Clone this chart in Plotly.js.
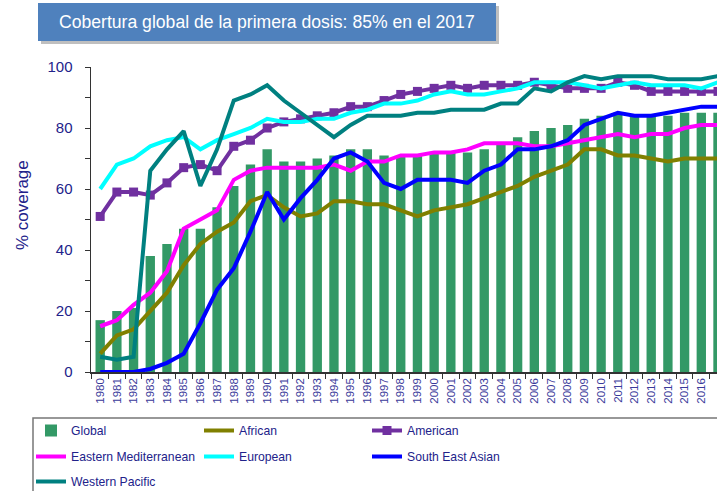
<!DOCTYPE html>
<html>
<head>
<meta charset="utf-8">
<script src="https://cdn.plot.ly/plotly-3.0.1.min.js"></script>
<style>html,body{margin:0;padding:0;background:#fff;}#chart{width:717px;height:491px;}</style>
</head>
<body>
<div id="chart"></div>
<script>
const years = ['1980','1981','1982','1983','1984','1985','1986','1987','1988','1989','1990','1991','1992','1993','1994','1995','1996','1997','1998','1999','2000','2001','2002','2003','2004','2005','2006','2007','2008','2009','2010','2011','2012','2013','2014','2015','2016','2017'];
const globalCov = [17,20,21,38,42,47,47,54,61,68,73,69,69,70,71,73,73,71,71,71,72,72,72,73,75,77,79,80,81,83,84,85,84,84,84,85,85,85];
const african = [6,12,14,20,26,35,42,46,49,56,58,54,51,52,56,56,55,55,53,51,53,54,55,57,59,61,64,66,68,73,73,71,71,70,69,70,70,70];
const american = [51,59,59,58,62,67,68,66,74,76,80,82,83,84,85,87,87,89,91,92,93,94,93,94,94,94,95,94,93,93,93,95,94,92,92,92,92,92];
const eastMed = [15,17,22,26,33,47,50,53,63,66,67,67,67,67,68,66,69,69,71,71,72,72,73,75,75,75,74,74,75,76,77,78,77,78,78,80,81,81];
const european = [60,68,70,74,76,77,73,76,78,80,83,82,82,83,83,85,86,88,88,89,91,92,91,91,92,93,95,95,95,94,93,94,95,94,94,94,93,95];
const seAsian = [0,0,0,1,3,6,16,27,34,46,59,50,57,63,70,72,69,62,60,63,63,63,62,66,68,73,73,74,76,81,83,85,84,84,85,86,87,87];
const westPac = [5,4,5,66,73,79,61,73,89,91,94,89,85,81,77,81,84,84,84,85,85,86,86,86,88,88,93,92,95,97,96,97,97,97,96,96,96,97];
const seriesNames = ['Global','African','American','Eastern Mediterranean','European','South East Asian','Western Pacific'];
const titleText = 'Cobertura global de la primera dosis: 85% en el 2017';
const yTitle = '% coverage';

const navy = '#22228a';
const L = 91, R = 717, T = 67, B = 372;
const pw = R - L, ph = B - T;
const px = v => (v - L) / pw;
const py = v => (B - v) / ph;

function line(y, name, color, leg, extra) {
  return Object.assign({
    type: 'scatter', mode: 'lines', x: years, y: y, name: name, legend: leg,
    line: {color: color, width: 4}, hoverinfo: 'skip'
  }, extra || {});
}

const data = [
  {type: 'bar', x: years, y: globalCov, name: seriesNames[0], legend: 'legend', marker: {color: '#339966'}, width: 0.56, hoverinfo: 'skip'},
  line(african, seriesNames[1], '#808000', 'legend'),
  line(american, seriesNames[2], '#7030A0', 'legend', {mode: 'lines+markers', marker: {symbol: 'square', size: 9, color: '#7030A0'}}),
  line(eastMed, seriesNames[3], '#FF00FF', 'legend2'),
  line(european, seriesNames[4], '#00FFFF', 'legend2'),
  line(seAsian, seriesNames[5], '#0000FF', 'legend2'),
  line(westPac, seriesNames[6], '#008080', 'legend3')
];

function leg(topPx) {
  return {
    orientation: 'h', x: px(31), xanchor: 'left', y: py(topPx), yanchor: 'top',
    entrywidth: 123, entrywidthmode: 'pixels',
    font: {size: 12.2, color: navy, family: 'Liberation Sans, Arial, sans-serif'},
    bgcolor: 'rgba(0,0,0,0)', borderwidth: 0, traceorder: 'normal'
  };
}

const layout = {
  width: 717, height: 491,
  margin: {l: L, r: 0, t: T, b: 491 - B, pad: 0, autoexpand: false},
  paper_bgcolor: '#fff', plot_bgcolor: '#fff',
  showlegend: true,
  font: {family: 'Liberation Sans, Arial, sans-serif', color: navy},
  xaxis: {
    type: 'category', range: [-0.55, 36.94], showgrid: false, zeroline: false,
    showline: true, linecolor: '#333', linewidth: 1.5,
    ticks: 'outside', tickson: 'boundaries', ticklen: 5, tickcolor: '#333',
    tickangle: -90, tickfont: {size: 11.5, color: '#3a3a9a'}, automargin: false
  },
  yaxis: {
    range: [0, 100], dtick: 20, showgrid: false, zeroline: false,
    showline: true, linecolor: '#333', linewidth: 1.5,
    ticks: 'outside', ticklen: 5, tickcolor: '#333', ticklabelstandoff: 9,
    minor: {dtick: 10, ticks: 'outside', ticklen: 5, tickcolor: '#333'},
    tickfont: {size: 15, color: navy}, automargin: false
  },
  legend: leg(416),
  legend2: leg(442),
  legend3: leg(467),
  shapes: [
    {type: 'rect', xref: 'paper', yref: 'paper', x0: px(41), x1: px(499), y0: py(44), y1: py(6), fillcolor: 'rgba(0,0,0,0.25)', line: {width: 0}, layer: 'above'},
    {type: 'rect', xref: 'paper', yref: 'paper', x0: px(38), x1: px(496), y0: py(41), y1: py(3), fillcolor: '#4F81BD', line: {width: 0}, layer: 'above'},
    {type: 'rect', xref: 'paper', yref: 'paper', x0: px(33), x1: px(722), y0: py(496), y1: py(418), fillcolor: 'rgba(0,0,0,0)', line: {color: '#777', width: 1.5}, layer: 'above'}
  ],
  annotations: [
    {xref: 'paper', yref: 'paper', x: px(267), y: py(22), xanchor: 'center', yanchor: 'middle', showarrow: false,
     text: titleText, font: {family: 'Liberation Sans, Arial, sans-serif', size: 17.6, color: '#ffffff'}},
    {xref: 'paper', yref: 'paper', x: px(22), y: py(205), xanchor: 'center', yanchor: 'middle', showarrow: false,
     textangle: -90, text: yTitle, font: {size: 17, color: navy}}
  ]
};

Plotly.newPlot('chart', data, layout, {staticPlot: true, displayModeBar: false});
</script>
</body>
</html>
